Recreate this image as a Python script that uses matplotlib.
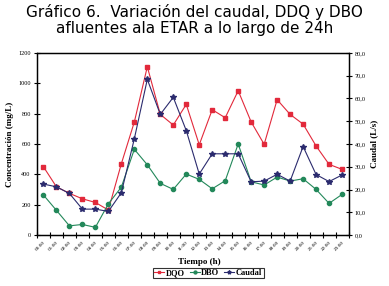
import matplotlib
matplotlib.use('Agg')
import matplotlib.pyplot as plt
from matplotlib.ticker import FuncFormatter, FixedLocator
import numpy as np

horas = [f'{h:02d}:00' for h in range(24)]
dqo = [450, 318, 275, 239, 215, 165, 470, 745, 1109, 795, 725, 861,
       595, 826, 773, 951, 745, 598, 892, 795, 731, 587, 466, 433]
dbo = [264, 163, 61, 70, 51, 206, 316, 565, 463, 341, 301, 402,
       367, 305, 358, 600, 351, 330, 382, 356, 371, 301, 209, 268]
caudal = [22.4, 21.2, 18.3, 11.4, 11.4, 10.4, 18.6, 42.3, 68.4, 53.0, 60.5, 45.9,
          26.8, 35.7, 35.7, 35.7, 23.4, 23.7, 26.7, 23.7, 38.9, 26.6, 23.5, 26.4]

c_dqo = '#e2293b'
c_dbo = '#23885a'
c_cau = '#2b2b6e'
serif = 'Liberation Serif'

fig = plt.figure(figsize=(3.89, 2.86), dpi=100)
ax = fig.add_axes([0.095, 0.178, 0.801, 0.637])
ax2 = ax.twinx()

x = np.arange(len(horas))
l1, = ax.plot(x, dqo, color=c_dqo, lw=0.8, marker='s', ms=3, label='DQO')
l2, = ax.plot(x, dbo, color=c_dbo, lw=0.8, marker='o', ms=3, label='DBO')
l3, = ax2.plot(x, caudal, color=c_cau, lw=0.8, marker='*', ms=4, label='Caudal')

ax.set_xlim(-0.5, len(horas) - 0.5)
ax.set_ylim(0, 1200)
ax2.set_ylim(0, 80)
ax.set_yticks(range(0, 1201, 200))
ax2.set_yticks(range(0, 81, 10))
ax2.yaxis.set_major_formatter(FuncFormatter(lambda v, p: f'{v:.1f}'.replace('.', ',')))

ax.set_xticks(x)
ax.set_xticklabels(horas, rotation=45, ha='right', rotation_mode='anchor')
ax.xaxis.set_minor_locator(FixedLocator(np.arange(-0.5, len(horas), 1)))
ax.tick_params(axis='x', which='major', length=0, pad=4, labelsize=3.8)
ax.tick_params(axis='x', which='minor', direction='inout', length=5, width=0.8)
ax.tick_params(axis='y', direction='inout', length=5, width=0.8, labelsize=4.5, pad=2)
ax2.tick_params(axis='y', direction='inout', length=5, width=0.8, labelsize=4.5, pad=2)

for lab in ax.get_xticklabels() + ax.get_yticklabels() + ax2.get_yticklabels():
    lab.set_family(serif)

for a in (ax, ax2):
    for s in a.spines.values():
        s.set_linewidth(0.9)

ax.set_ylabel('Concentración (mg/L)', family=serif, fontsize=6.5, fontweight='bold', labelpad=3)
ax2.set_ylabel('Caudal (L/s)', family=serif, fontsize=6.5, fontweight='bold', labelpad=3)

fig.text(0.513, 0.083, 'Tiempo (h)', family=serif, fontsize=6.5, fontweight='bold',
         ha='center', va='center')
fig.text(0.5, 0.985, 'Gráfico 6.  Variación del caudal, DDQ y DBO\nafluentes ala ETAR a lo largo de 24h',
         ha='center', va='top', fontsize=11, linespacing=1.05)

leg = fig.legend(handles=[l1, l2, l3], loc='center', bbox_to_anchor=(0.535, 0.045), ncol=3,
                 prop={'family': serif, 'size': 6, 'weight': 'bold'}, frameon=True,
                 fancybox=False, handlelength=1.2, handletextpad=0.2, columnspacing=0.6,
                 borderpad=0.15, borderaxespad=0, markerscale=0.7)
leg.get_frame().set_edgecolor('black')
leg.get_frame().set_linewidth(0.8)

fig.savefig('out.png', dpi=100)
